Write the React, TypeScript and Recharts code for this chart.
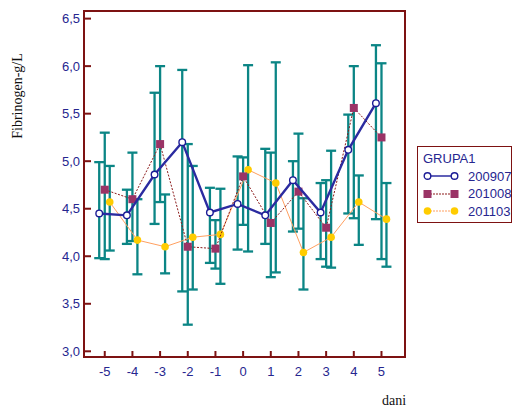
import { ScatterChart, Scatter, XAxis, YAxis, ErrorBar, ReferenceArea } from 'recharts';

const days = [-5, -4, -3, -2, -1, 0, 1, 2, 3, 4, 5];
const yTicks = [3, 3.5, 4, 4.5, 5, 5.5, 6, 6.5];

// GRUPA1 = 200907
const mean200907 = [4.45, 4.43, 4.86, 5.2, 4.46, 4.55, 4.43, 4.8, 4.46, 5.12, 5.61];
const lo200907 = [3.98, 4.13, 4.34, 3.63, 3.93, 4.07, 4.13, 4.26, 3.97, 4.45, 4.39];
const hi200907 = [4.99, 4.7, 5.72, 5.96, 4.72, 5.05, 5.13, 5.0, 4.77, 5.49, 6.22];

// GRUPA1 = 201008
const mean201008 = [4.7, 4.6, 5.18, 4.1, 4.08, 4.84, 4.35, 4.68, 4.3, 5.56, 5.25];
const lo201008 = [3.97, 4.16, 4.57, 3.28, 3.87, 4.33, 3.78, 4.29, 3.89, 4.4, 3.97];
const hi201008 = [5.3, 5.09, 6.0, 5.18, 4.38, 5.04, 5.09, 5.29, 4.8, 6.0, 6.03];

// GRUPA1 = 201103
const mean201103 = [4.57, 4.17, 4.1, 4.2, 4.23, 4.91, 4.77, 4.04, 4.2, 4.57, 4.39];
const lo201103 = [4.06, 3.81, 3.82, 3.65, 3.71, 4.05, 3.83, 3.65, 3.88, 4.12, 3.89];
const hi201103 = [4.95, 4.6, 4.65, 4.95, 4.71, 6.01, 6.04, 4.61, 5.11, 4.85, 4.77];

const FRAME = '#7d1212';
const TXT = '#26268f';
const TEAL = '#0b8585';
const SANS = '"Liberation Sans", Arial, sans-serif';
const SERIF = '"Liberation Serif", "Times New Roman", serif';
const X_DOMAIN = [-5.75, 5.85];
const Y_DOMAIN = [2.94, 6.58];

const OpenCircle = (p: any) => (
  <circle cx={p.cx} cy={p.cy} r={3.3} fill="#fff" stroke="#1c1c96" strokeWidth={1.4} />
);
const Square = (p: any) => (
  <rect x={p.cx - 4} y={p.cy - 4} width={8} height={8} fill="#9a3366" />
);
const Dot = (p: any) => <circle cx={p.cx} cy={p.cy} r={3.8} fill="#ffcc00" />;
const NoShape = () => <g />;

const series = [
  { name: '200907', mean: mean200907, lo: lo200907, hi: hi200907, shift: -0.2, shape: OpenCircle, line: { stroke: '#2b2ba0', strokeWidth: 2.4 } },
  { name: '201008', mean: mean201008, lo: lo201008, hi: hi201008, shift: 0, shape: Square, line: { stroke: '#8b1a1a', strokeWidth: 1, strokeDasharray: '2 1.5' } },
  { name: '201103', mean: mean201103, lo: lo201103, hi: hi201103, shift: 0.18, shape: Dot, line: { stroke: '#ffa060', strokeWidth: 1 } },
];

const rows = series.map((s) =>
  days.map((d, i) => ({ x: d + s.shift, y: s.mean[i], err: [s.mean[i] - s.lo[i], s.hi[i] - s.mean[i]] }))
);

const fmt = (v: number) => v.toFixed(1).replace('.', ',');

const YTick = (props: any) => {
  const { x, y, payload } = props;
  const ax = x + 4;
  return (
    <g>
      <line x1={ax} x2={ax + 7} y1={y} y2={y} stroke={FRAME} strokeWidth={2} />
      <text x={x} y={y} dy={4.5} textAnchor="end" fill={TXT} fontSize={13} fontFamily={SANS}>
        {fmt(payload.value)}
      </text>
    </g>
  );
};

const XTick = (props: any) => {
  const { x, y, payload } = props;
  return (
    <g>
      <line x1={x} x2={x} y1={y} y2={y - 6} stroke={FRAME} strokeWidth={2} />
      <text x={x} y={y + 19} textAnchor="middle" fill={TXT} fontSize={13} fontFamily={SANS}>
        {payload.value}
      </text>
    </g>
  );
};

const LegendMark = ({ s }: any) => {
  const Shape = s.shape;
  return (
    <svg width={36} height={12} style={{ display: 'block', flexShrink: 0 }}>
      <line x1={4} x2={32} y1={6} y2={6} {...s.line} strokeWidth={Math.min(s.line.strokeWidth, 1.5)} strokeDasharray={s.name === '200907' ? undefined : '2 1'} />
      <Shape cx={4.5} cy={6} />
      <Shape cx={31.5} cy={6} />
    </svg>
  );
};

export default function App() {
  return (
    <div style={{ position: 'absolute', left: 0, top: 0, width: 514, height: 412, background: '#fff' }}>
      <ScatterChart width={514} height={412} margin={{ top: 11, right: 109, bottom: 25, left: 0 }}>
        <XAxis
          type="number"
          dataKey="x"
          domain={X_DOMAIN}
          ticks={days}
          allowDataOverflow
          height={30}
          tickSize={0}
          tickMargin={0}
          axisLine={false}
          tickLine={false}
          tick={<XTick />}
        />
        <YAxis
          type="number"
          dataKey="y"
          domain={Y_DOMAIN}
          ticks={yTicks}
          allowDataOverflow
          width={84}
          tickSize={0}
          tickMargin={4}
          axisLine={false}
          tickLine={false}
          tick={<YTick />}
        />
        {series.map((s, k) => (
          <Scatter key={'eb' + s.name} data={rows[k]} shape={NoShape} isAnimationActive={false}>
            <ErrorBar dataKey="err" direction="y" width={5} stroke={TEAL} strokeWidth={2.3} />
          </Scatter>
        ))}
        {[2, 1, 0].map((k) => (
          <Scatter
            key={series[k].name}
            name={series[k].name}
            data={rows[k]}
            shape={series[k].shape}
            line={series[k].line}
            lineType="joint"
            isAnimationActive={false}
          />
        ))}
        <ReferenceArea
          x1={X_DOMAIN[0]}
          x2={X_DOMAIN[1]}
          y1={Y_DOMAIN[0]}
          y2={Y_DOMAIN[1]}
          fill="none"
          fillOpacity={0}
          stroke={FRAME}
          strokeWidth={2}
          ifOverflow="visible"
        />
      </ScatterChart>

      <div
        style={{
          position: 'absolute',
          left: 18,
          top: 96,
          transform: 'translate(-50%, -50%) rotate(-90deg)',
          whiteSpace: 'nowrap',
          fontFamily: SERIF,
          fontSize: 14,
          color: '#111',
        }}
      >
        Fibrinogen-g/L
      </div>
      <div style={{ position: 'absolute', left: 382, top: 393, fontFamily: SERIF, fontSize: 14, color: '#111', lineHeight: '16px' }}>
        dani
      </div>

      <div
        style={{
          position: 'absolute',
          left: 417,
          top: 146,
          width: 95,
          height: 77,
          boxSizing: 'border-box',
          border: `1.5px solid ${FRAME}`,
          fontFamily: SANS,
          fontSize: 13,
          color: TXT,
          padding: '3px 0 0 5px',
          lineHeight: '17.5px',
          whiteSpace: 'nowrap',
        }}
      >
        <div>GRUPA1</div>
        {series.map((s) => (
          <div key={s.name} style={{ display: 'flex', alignItems: 'center', height: 17.5 }}>
            <LegendMark s={s} />
            <span style={{ marginLeft: 9 }}>{s.name}</span>
          </div>
        ))}
      </div>
    </div>
  );
}
